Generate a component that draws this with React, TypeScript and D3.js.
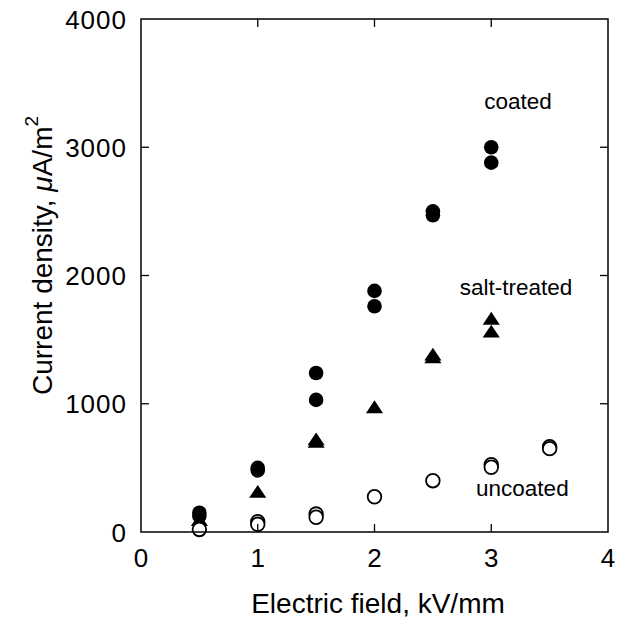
import React from "react";
import * as d3 from "d3";

const xTicks = [0, 1, 2, 3, 4];
const yTicks = [0, 1000, 2000, 3000, 4000];

const coatedX = [0.5, 0.5, 1, 1, 1.5, 1.5, 2, 2, 2.5, 2.5, 3, 3];
const coatedY = [150, 125, 500, 480, 1240, 1030, 1880, 1760, 2500, 2470, 3000, 2880];

const saltX = [0.5, 1, 1.5, 1.5, 2, 2.5, 2.5, 3, 3];
const saltY = [80, 300, 710, 690, 960, 1370, 1350, 1650, 1550];

const uncoatedX = [0.5, 1, 1, 1.5, 1.5, 2, 2.5, 3, 3, 3.5, 3.5];
const uncoatedY = [20, 80, 60, 140, 115, 275, 400, 525, 505, 665, 650];

const seriesLabels = [
  { text: "coated", x: 2.94, y: 3300 },
  { text: "salt-treated", x: 2.73, y: 1850 },
  { text: "uncoated", x: 2.87, y: 280 },
];

const FONT = "'Liberation Sans', Arial, Helvetica, sans-serif";

export default function App() {
  const W = 618;
  const H = 618;
  const left = 141;
  const right = 608;
  const top = 19;
  const bottom = 532;

  const x = d3.scaleLinear().domain([0, 4]).range([left, right]);
  const y = d3.scaleLinear().domain([0, 4000]).range([bottom, top]);

  const tickLen = 8;
  const tri = d3.symbol().type(d3.symbolTriangle).size(105)();

  const coated = coatedX.map((v, i) => [v, coatedY[i]]);
  const salt = saltX.map((v, i) => [v, saltY[i]]);
  const uncoated = uncoatedX.map((v, i) => [v, uncoatedY[i]]);

  return (
    <svg
      width={W}
      height={H}
      style={{ position: "absolute", left: 0, top: 0, background: "#fff" }}
      fontFamily={FONT}
    >
      <rect x={0} y={0} width={W} height={H} fill="#fff" />
      {/* markers */}
      {coated.map((d, i) => (
        <circle key={"c" + i} cx={x(d[0])} cy={y(d[1])} r={7.3} fill="#000" />
      ))}
      {salt.map((d, i) => (
        <path
          key={"s" + i}
          d={tri as string}
          transform={`translate(${x(d[0])},${y(d[1])}) scale(1.1,0.95)`}
          fill="#000"
        />
      ))}
      {uncoated.map((d, i) => (
        <circle
          key={"u" + i}
          cx={x(d[0])}
          cy={y(d[1])}
          r={6.8}
          fill="#fff"
          stroke="#000"
          strokeWidth={1.8}
        />
      ))}

      {/* frame */}
      <rect
        x={left}
        y={top}
        width={right - left}
        height={bottom - top}
        fill="none"
        stroke="#000"
        strokeWidth={1.5}
      />
      {/* ticks */}
      {xTicks.slice(1, -1).map((t) => (
        <g key={"xt" + t}>
          <line x1={x(t)} x2={x(t)} y1={bottom} y2={bottom - tickLen} stroke="#000" strokeWidth={1.3} />
          <line x1={x(t)} x2={x(t)} y1={top} y2={top + tickLen} stroke="#000" strokeWidth={1.3} />
        </g>
      ))}
      {yTicks.slice(1, -1).map((t) => (
        <g key={"yt" + t}>
          <line x1={left} x2={left + tickLen} y1={y(t)} y2={y(t)} stroke="#000" strokeWidth={1.3} />
          <line x1={right} x2={right - tickLen} y1={y(t)} y2={y(t)} stroke="#000" strokeWidth={1.3} />
        </g>
      ))}

      {/* tick labels */}
      {xTicks.map((t) => (
        <text key={"xl" + t} x={x(t)} y={567} textAnchor="middle" fontSize={26} fill="#000">
          {t}
        </text>
      ))}
      {yTicks.map((t) => (
        <text
          key={"yl" + t}
          x={127}
          y={y(t) + 9.5}
          textAnchor="end"
          fontSize={26}
          letterSpacing={1}
          fill="#000"
        >
          {t}
        </text>
      ))}

      {/* axis titles */}
      <text x={378} y={613} textAnchor="middle" fontSize={28} fill="#000">
        Electric field, kV/mm
      </text>
      <text transform="translate(52,395) rotate(-90)" textAnchor="start" fontSize={28} fill="#000">
        Current density,{" "}
        <tspan fontStyle="italic">μ</tspan>A/m
        <tspan fontSize={19} dy={-14}>2</tspan>
      </text>

      {/* series labels */}
      {seriesLabels.map((l) => (
        <text key={l.text} x={x(l.x)} y={y(l.y)} fontSize={22.5} fill="#000">
          {l.text}
        </text>
      ))}
    </svg>
  );
}
